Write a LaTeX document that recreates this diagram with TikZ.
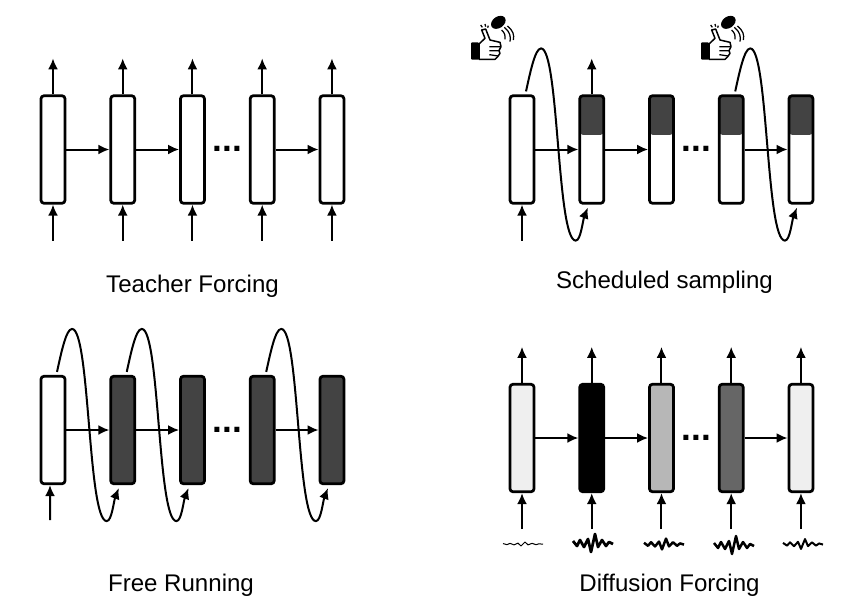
\documentclass[tikz,border=0pt]{standalone}
\usepackage{fontspec}
\setmainfont{Liberation Sans}
\usepackage{tikz}
\usetikzlibrary{arrows.meta,positioning,calc}
\definecolor{inkdark}{HTML}{434343}
\definecolor{inkmid}{HTML}{666666}
\definecolor{inksoft}{HTML}{B7B7B7}
\definecolor{inkpale}{HTML}{EFEFEF}

% curve from the top of one cell round to the bottom of the next
\newcommand{\feedback}[2]{%
  \draw[arr] ($(#1.north)+(4,-3)$)
    .. controls +(4,-18) and +(-6,0) .. ($(#1.north)+(19,-46)$)
    .. controls +(18,0) and +(-19,0) .. ($(#2.south)+(-16,36)$)
    .. controls +(5,0) and +(-5,13) .. ($(#2.south)+(-4,3)$);}
% noise mark under a cell
\newcommand{\noisemark}[4]{%
  \draw[line width=#4, line join=round, shift={(#1,#2)}, yscale=#3]
    (-19,-2) -- (-15,3) -- (-12,-3) -- (-8,4) -- (-4,-4) -- (-1,9) -- (3,-9)
    -- (6,4) -- (10,-3) -- (14,3) -- (17,-1) -- (21,1);}

\begin{document}
\begin{tikzpicture}[
  x=0.02cm, y=-0.02cm,
  cell/.style={draw, rounded corners=0.06cm, line width=0.055cm, inner sep=0pt,
               minimum width=0.48cm, minimum height=2.15cm, fill=white},
  halfcell/.style={cell, path picture={
      \fill[inkdark] (path picture bounding box.north west) rectangle
        ([yshift=-0.78cm]path picture bounding box.north east);}},
  arr/.style={-{Latex[length=0.22cm,width=0.2cm]}, line width=0.04cm},
  title/.style={font=\fontsize{13.7}{16}\selectfont},
  gap/.style={font=\fontsize{20}{20}\selectfont\bfseries, inner sep=0pt},
  thumbup/.pic={
    \begin{scope}[x=0.00667cm, y=-0.00667cm, line join=round]
      \fill[black, rounded corners=0.02cm] (33,127) rectangle (57,179);
      \draw[line width=0.03cm, fill=white] (57,132) -- (75,115) -- (65,90) -- (77,87)
        -- (90,120) -- (120,127) -- (123,140) -- (117,152) -- (120,160) -- (113,170)
        -- (105,178) -- (57,178) -- cycle;
      \draw[line width=0.025cm] (88,140) -- (122,140) (88,152) -- (117,152) (88,164) -- (114,168);
      \fill[black, rotate around={35:(115,67)}] (115,67) ellipse (24 and 17);
      \draw[line width=0.025cm] (125,90) .. controls (135,100) and (137,108) .. (135,118)
        (133,82) .. controls (150,95) and (153,110) .. (150,125)
        (142,78) .. controls (160,92) and (163,105) .. (160,120);
      \draw[line width=0.025cm] (62,75) -- (67,82) (75,72) -- (77,80) (85,77) -- (83,83);
    \end{scope}}
]
  \useasboundingbox (0,0) rectangle (848,605);

  % teacher forcing
  \node[cell] (tf1) at (53,149.5) {};
  \node[cell, right=0.86cm of tf1] (tf2) {};
  \node[cell, right=0.86cm of tf2] (tf3) {};
  \node[cell, right=0.86cm of tf3] (tf4) {};
  \node[cell, right=0.86cm of tf4] (tf5) {};
  \draw[arr] (tf1) -- (tf2);
  \draw[arr] (tf2) -- (tf3);
  \draw[arr] (tf4) -- (tf5);
  \node[gap] (tfgap) at ($(tf3)!0.5!(tf4)+(0,-1)$) {...};
  \foreach \i in {1,...,5} {
    \coordinate[below=0.72cm of tf\i] (tfin\i);
    \coordinate[above=0.72cm of tf\i] (tfout\i);
    \draw[arr] (tfin\i) -- (tf\i);
    \draw[arr] (tf\i) -- (tfout\i);
  }
  \node[title] (tftitle) at (192.5,286) {Teacher Forcing};

  % scheduled sampling
  \node[cell] (ss1) at (522,149.5) {};
  \node[halfcell, right=0.86cm of ss1] (ss2) {};
  \node[halfcell, right=0.86cm of ss2] (ss3) {};
  \node[halfcell, right=0.86cm of ss3] (ss4) {};
  \node[halfcell, right=0.86cm of ss4] (ss5) {};
  \draw[arr] (ss1) -- (ss2);
  \draw[arr] (ss2) -- (ss3);
  \draw[arr] (ss4) -- (ss5);
  \node[gap] (ssgap) at ($(ss3)!0.5!(ss4)+(0,-1)$) {...};
  \coordinate[below=0.72cm of ss1] (ssin1);
  \coordinate[above=0.72cm of ss2] (ssout2);
  \draw[arr] (ssin1) -- (ss1);
  \draw[arr] (ss2) -- (ssout2);
  \feedback{ss1}{ss2}
  \feedback{ss4}{ss5}
  \pic (thumba) at (460,0) {thumbup};
  \pic (thumbb) at (690,0) {thumbup};
  \node[title] (sstitle) at (664.5,282) {Scheduled sampling};

  % free running
  \node[cell] (fr1) at (53,430) {};
  \node[cell, fill=inkdark, right=0.86cm of fr1] (fr2) {};
  \node[cell, fill=inkdark, right=0.86cm of fr2] (fr3) {};
  \node[cell, fill=inkdark, right=0.86cm of fr3] (fr4) {};
  \node[cell, fill=inkdark, right=0.86cm of fr4] (fr5) {};
  \draw[arr] (fr1) -- (fr2);
  \draw[arr] (fr2) -- (fr3);
  \draw[arr] (fr4) -- (fr5);
  \node[gap] (frgap) at ($(fr3)!0.5!(fr4)$) {...};
  \coordinate (frin1) at (50,520);
  \draw[arr] (frin1) -- ([xshift=-0.06cm]fr1.south);
  \feedback{fr1}{fr2}
  \feedback{fr2}{fr3}
  \feedback{fr4}{fr5}
  \node[title] (frtitle) at (181,585) {Free Running};

  % diffusion forcing
  \node[cell, fill=inkpale] (df1) at (522,438) {};
  \node[cell, fill=black, right=0.86cm of df1] (df2) {};
  \node[cell, fill=inksoft, right=0.86cm of df2] (df3) {};
  \node[cell, fill=inkmid, right=0.86cm of df3] (df4) {};
  \node[cell, fill=inkpale, right=0.86cm of df4] (df5) {};
  \draw[arr] (df1) -- (df2);
  \draw[arr] (df2) -- (df3);
  \draw[arr] (df4) -- (df5);
  \node[gap] (dfgap) at ($(df3)!0.5!(df4)$) {...};
  \foreach \i in {1,...,5} {
    \coordinate[below=0.72cm of df\i] (dfin\i);
    \coordinate[above=0.72cm of df\i] (dfout\i);
    \draw[arr] (dfin\i) -- (df\i);
    \draw[arr] (df\i) -- (dfout\i);
  }
  \noisemark{522}{544}{0.22}{0.02cm}
  \noisemark{592}{543}{1}{0.055cm}
  \noisemark{663}{544}{0.6}{0.05cm}
  \noisemark{733}{545}{1}{0.05cm}
  \noisemark{802}{544}{0.55}{0.04cm}
  \node[title] (dftitle) at (669.5,585) {Diffusion Forcing};
\end{tikzpicture}
\end{document}
